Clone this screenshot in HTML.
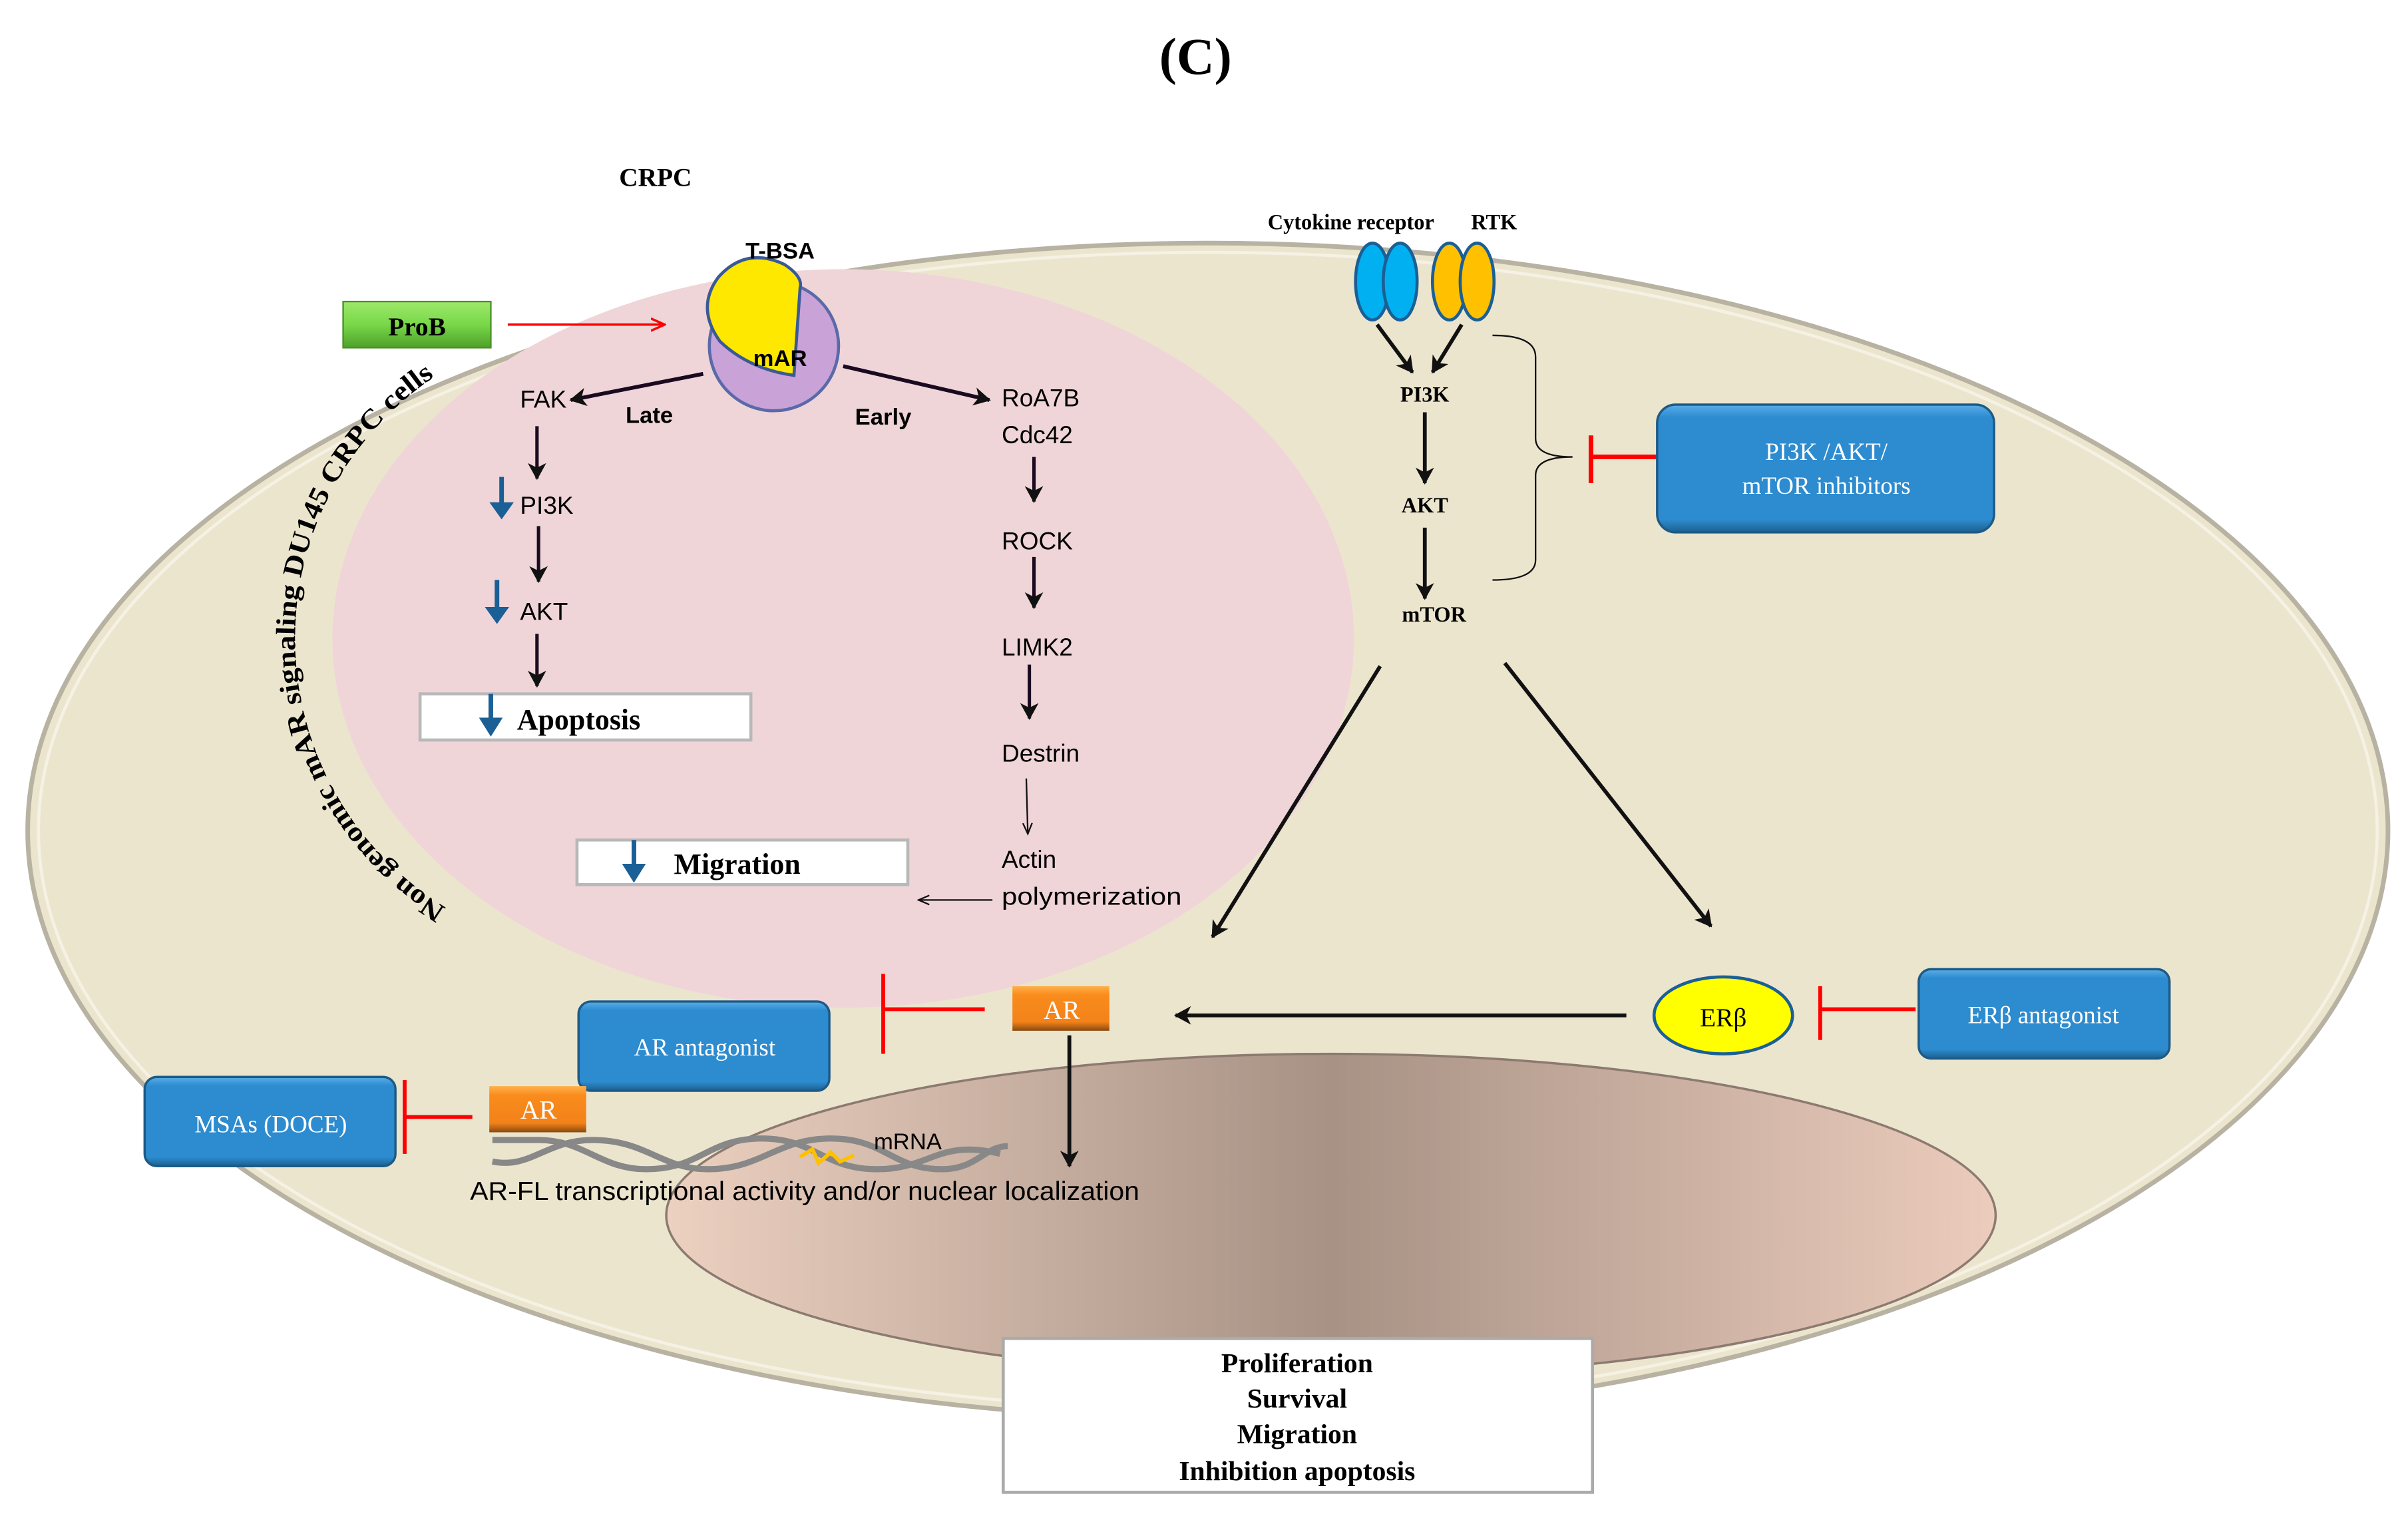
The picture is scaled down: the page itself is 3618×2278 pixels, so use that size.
<!DOCTYPE html>
<html><head><meta charset="utf-8"><style>
html,body{margin:0;padding:0;background:#fff;}
svg{display:block;}
.serif{font-family:"Liberation Serif",serif;}
.sans{font-family:"Liberation Sans",sans-serif;}
</style></head><body>
<svg width="3618" height="2278" viewBox="0 0 1565 985.4" preserveAspectRatio="none" xmlns="http://www.w3.org/2000/svg">
<defs>
<marker id="ahb" markerWidth="12" markerHeight="12" refX="10" refY="6" orient="auto" markerUnits="userSpaceOnUse"><path d="M0,0 L11,6 L0,12 L3,6 Z" fill="#111"/></marker>
<marker id="ahr" markerWidth="10" markerHeight="10" refX="9" refY="5" orient="auto" markerUnits="userSpaceOnUse"><path d="M0,1 L9,5 L0,9" fill="none" stroke="red" stroke-width="1.5"/></marker>
<marker id="aht" markerWidth="8" markerHeight="8" refX="7" refY="4" orient="auto" markerUnits="userSpaceOnUse"><path d="M0,1 L7,4 L0,7" fill="none" stroke="#111" stroke-width="1"/></marker>
<linearGradient id="nuc" x1="0" x2="1" y1="0" y2="0">
<stop offset="0" stop-color="#ecd0c0"/><stop offset="0.5" stop-color="#a79285"/><stop offset="1" stop-color="#ecccbc"/></linearGradient>
<linearGradient id="blue" x1="0" x2="0" y1="0" y2="1"><stop offset="0" stop-color="#5aaee8"/><stop offset="0.1" stop-color="#2d8bcf"/><stop offset="0.9" stop-color="#2d8bcf"/><stop offset="1" stop-color="#1c5f8f"/></linearGradient>
<linearGradient id="orng" x1="0" x2="0" y1="0" y2="1"><stop offset="0" stop-color="#ffb04a"/><stop offset="0.2" stop-color="#f98c1c"/><stop offset="0.8" stop-color="#f3821a"/><stop offset="1" stop-color="#8a4a10"/></linearGradient>
<linearGradient id="grn" x1="0" x2="0" y1="0" y2="1"><stop offset="0" stop-color="#9ee86a"/><stop offset="0.5" stop-color="#78d848"/><stop offset="1" stop-color="#4fa02a"/></linearGradient>
<path id="arc" d="M 290,590 A 205 205 0 0 1 290,240"/>
</defs>

<text x="777" y="48" text-anchor="middle" class="serif" font-size="34" font-weight="bold">(C)</text>
<text x="426" y="121" text-anchor="middle" class="serif" font-size="17" font-weight="bold">CRPC</text>

<ellipse cx="785" cy="540" rx="767" ry="382" fill="#ece5ce" stroke="#b8b2a2" stroke-width="3"/>
<ellipse cx="785" cy="540" rx="760" ry="376" fill="none" stroke="#f5f1e4" stroke-width="2"/>
<ellipse cx="548" cy="415" rx="332" ry="240" fill="#efd5d8"/>
<ellipse cx="865" cy="790" rx="432" ry="105" fill="url(#nuc)" stroke="#8c7a70" stroke-width="1.5"/>

<rect x="223" y="196" width="96" height="30" fill="url(#grn)" stroke="#4a8f2a"/>
<text x="271" y="218" text-anchor="middle" class="serif" font-size="17" font-weight="bold">ProB</text>
<line x1="330" y1="211" x2="432" y2="211" stroke="red" stroke-width="1.5" marker-end="url(#ahr)"/>

<circle cx="503" cy="225" r="42" fill="#c9a2d8" stroke="#5a6aa8" stroke-width="2"/>
<path d="M520,187 L516,244 Q487,240 468,222 Q452,200 467,180 Q485,160 510,172 Q522,180 520,187 Z" fill="#ffe800" stroke="#3a5a95" stroke-width="2"/>
<text x="507" y="168" text-anchor="middle" class="sans" font-size="15" font-weight="bold">T-BSA</text>
<text x="507" y="238" text-anchor="middle" class="sans" font-size="15" font-weight="bold">mAR</text>

<line x1="457" y1="243" x2="371" y2="260" stroke="#1a0a20" stroke-width="2.5" marker-end="url(#ahb)"/>
<text x="422" y="275" text-anchor="middle" class="sans" font-size="15" font-weight="bold">Late</text>
<line x1="548" y1="238" x2="643" y2="260" stroke="#1a0a20" stroke-width="2.5" marker-end="url(#ahb)"/>
<text x="574" y="276" text-anchor="middle" class="sans" font-size="15" font-weight="bold">Early</text>

<g class="sans" font-size="16">
<text x="338" y="265">FAK</text>
<text x="338" y="334">PI3K</text>
<text x="338" y="403">AKT</text>
<text x="651" y="264">RoA7B</text>
<text x="651" y="288">Cdc42</text>
<text x="651" y="357">ROCK</text>
<text x="651" y="426">LIMK2</text>
<text x="651" y="495">Destrin</text>
<text x="651" y="564">Actin</text>
<text x="651" y="588" textLength="117" lengthAdjust="spacingAndGlyphs">polymerization</text>
</g>
<g stroke="#1a0a20" stroke-width="2.2">
<line x1="349" y1="277" x2="349" y2="311" marker-end="url(#ahb)"/>
<line x1="350" y1="342" x2="350" y2="378" marker-end="url(#ahb)"/>
<line x1="349" y1="412" x2="349" y2="446" marker-end="url(#ahb)"/>
<line x1="672" y1="297" x2="672" y2="326" marker-end="url(#ahb)"/>
<line x1="672" y1="362" x2="672" y2="395" marker-end="url(#ahb)"/>
<line x1="669" y1="432" x2="669" y2="467" marker-end="url(#ahb)"/>
</g>
<line x1="667" y1="506" x2="668" y2="542" stroke="#111" stroke-width="1" marker-end="url(#aht)"/>
<line x1="645" y1="585" x2="597" y2="585" stroke="#111" stroke-width="1" marker-end="url(#aht)"/>

<g stroke="#1a5f95" stroke-width="3" fill="#1a5f95">
<line x1="326" y1="310" x2="326" y2="330"/><path d="M321,328 L331,328 L326,335 Z"/>
<line x1="323" y1="377" x2="323" y2="398"/><path d="M318,396 L328,396 L323,403 Z"/>
</g>

<rect x="273" y="451" width="215" height="30" fill="#fff" stroke="#b8b8b8" stroke-width="2"/>
<text x="336" y="474" class="serif" font-size="19" font-weight="bold">Apoptosis</text>
<g stroke="#1a5f95" stroke-width="3" fill="#1a5f95"><line x1="319" y1="451" x2="319" y2="470"/><path d="M314,468 L324,468 L319,476 Z"/></g>
<rect x="375" y="546" width="215" height="29" fill="#fff" stroke="#b8b8b8" stroke-width="2"/>
<text x="438" y="568" class="serif" font-size="19" font-weight="bold">Migration</text>
<g stroke="#1a5f95" stroke-width="3" fill="#1a5f95"><line x1="412" y1="546" x2="412" y2="565"/><path d="M407,563 L417,563 L412,571 Z"/></g>

<text class="serif" font-size="18" font-weight="bold"><textPath href="#arc" textLength="410" lengthAdjust="spacingAndGlyphs">Non genomic mAR signaling DU145 CRPC  cells</textPath></text>

<text x="878" y="149" text-anchor="middle" class="serif" font-size="14" font-weight="bold">Cytokine  receptor</text>
<text x="971" y="149" text-anchor="middle" class="serif" font-size="14" font-weight="bold">RTK</text>
<g stroke="#1a5f95" stroke-width="2">
<ellipse cx="892" cy="183" rx="11" ry="25" fill="#00b0f0"/>
<ellipse cx="910" cy="183" rx="11" ry="25" fill="#00b0f0"/>
<ellipse cx="942" cy="183" rx="11" ry="25" fill="#ffc000"/>
<ellipse cx="960" cy="183" rx="11" ry="25" fill="#ffc000"/>
</g>
<g stroke="#111" stroke-width="2.5">
<line x1="895" y1="211" x2="918" y2="242" marker-end="url(#ahb)"/>
<line x1="950" y1="211" x2="931" y2="242" marker-end="url(#ahb)"/>
<line x1="926" y1="268" x2="926" y2="314" marker-end="url(#ahb)"/>
<line x1="926" y1="343" x2="926" y2="389" marker-end="url(#ahb)"/>
</g>
<g class="serif" font-size="14" font-weight="bold" text-anchor="middle">
<text x="926" y="261">PI3K</text><text x="926" y="333">AKT</text><text x="932" y="404">mTOR</text></g>
<path d="M970,218 Q998,218 998,232 L998,285 Q998,297 1022,297 Q998,297 998,309 L998,364 Q998,377 970,377" fill="none" stroke="#111" stroke-width="1"/>
<g stroke="red" stroke-width="3"><line x1="1078" y1="297" x2="1034" y2="297"/><line x1="1034" y1="283" x2="1034" y2="314"/></g>
<rect x="1077" y="263" width="219" height="83" rx="12" fill="url(#blue)" stroke="#1d5a85" stroke-width="1.5"/>
<text x="1187" y="299" text-anchor="middle" class="serif" font-size="16" fill="#fff">PI3K /AKT/</text>
<text x="1187" y="321" text-anchor="middle" class="serif" font-size="16" fill="#fff">mTOR inhibitors</text>

<g stroke="#111" stroke-width="2.5">
<line x1="897" y1="433" x2="788" y2="609" marker-end="url(#ahb)"/>
<line x1="978" y1="431" x2="1112" y2="602" marker-end="url(#ahb)"/>
<line x1="1057" y1="660" x2="764" y2="660" marker-end="url(#ahb)"/>
<line x1="695" y1="673" x2="695" y2="758" marker-end="url(#ahb)"/>
</g>

<ellipse cx="1120" cy="660" rx="45" ry="25" fill="#ffff00" stroke="#1a5f95" stroke-width="2"/>
<text x="1120" y="667" text-anchor="middle" class="serif" font-size="17">ERβ</text>
<rect x="1247" y="630" width="163" height="58" rx="8" fill="url(#blue)" stroke="#1d5a85" stroke-width="1.5"/>
<text x="1328" y="665" text-anchor="middle" class="serif" font-size="16" fill="#fff">ERβ antagonist</text>
<g stroke="red" stroke-width="2.5"><line x1="1245" y1="656" x2="1183" y2="656"/><line x1="1183" y1="641" x2="1183" y2="676"/></g>

<rect x="658" y="641" width="63" height="29" fill="url(#orng)"/>
<text x="690" y="662" text-anchor="middle" class="serif" font-size="17" fill="#fff">AR</text>
<g stroke="red" stroke-width="2.5"><line x1="640" y1="656" x2="574" y2="656"/><line x1="574" y1="633" x2="574" y2="685"/></g>
<rect x="376" y="651" width="163" height="58" rx="8" fill="url(#blue)" stroke="#1d5a85" stroke-width="1.5"/>
<text x="458" y="686" text-anchor="middle" class="serif" font-size="16" fill="#fff">AR antagonist</text>

<rect x="94" y="700" width="163" height="58" rx="8" fill="url(#blue)" stroke="#1d5a85" stroke-width="1.5"/>
<text x="176" y="736" text-anchor="middle" class="serif" font-size="16" fill="#fff">MSAs (DOCE)</text>
<g stroke="red" stroke-width="2.5"><line x1="307" y1="726" x2="263" y2="726"/><line x1="263" y1="702" x2="263" y2="750"/></g>
<rect x="318" y="706" width="63" height="30" fill="url(#orng)"/>
<text x="350" y="727" text-anchor="middle" class="serif" font-size="17" fill="#fff">AR</text>

<g fill="none" stroke="#888" stroke-width="4">
<path d="M320,741 L350,741 C380,741 390,760 420,760 C455,760 460,740 495,740 C530,740 535,760 570,760 C605,760 610,740 650,750"/>
<path d="M320,755 C345,760 355,741 385,741 C420,741 430,760 460,760 C495,760 505,740 540,740 C575,740 580,760 612,760 C635,760 640,745 655,745"/>
</g>
<path d="M520,752 L528,747 L532,756 L540,749 L546,755 L555,751" fill="none" stroke="#ffc000" stroke-width="2.5"/>
<text x="590" y="747" text-anchor="middle" class="sans" font-size="15">mRNA</text>
<text x="523" y="780" text-anchor="middle" class="sans" font-size="17" textLength="435" lengthAdjust="spacingAndGlyphs">AR-FL transcriptional activity and/or nuclear localization</text>

<rect x="652" y="870" width="383" height="100" fill="#fff" stroke="#aaa" stroke-width="2"/>
<g class="serif" font-size="18" font-weight="bold" text-anchor="middle">
<text x="843" y="892">Proliferation</text>
<text x="843" y="915">Survival</text>
<text x="843" y="938">Migration</text>
<text x="843" y="962">Inhibition apoptosis</text>
</g>
</svg>
</body></html>
